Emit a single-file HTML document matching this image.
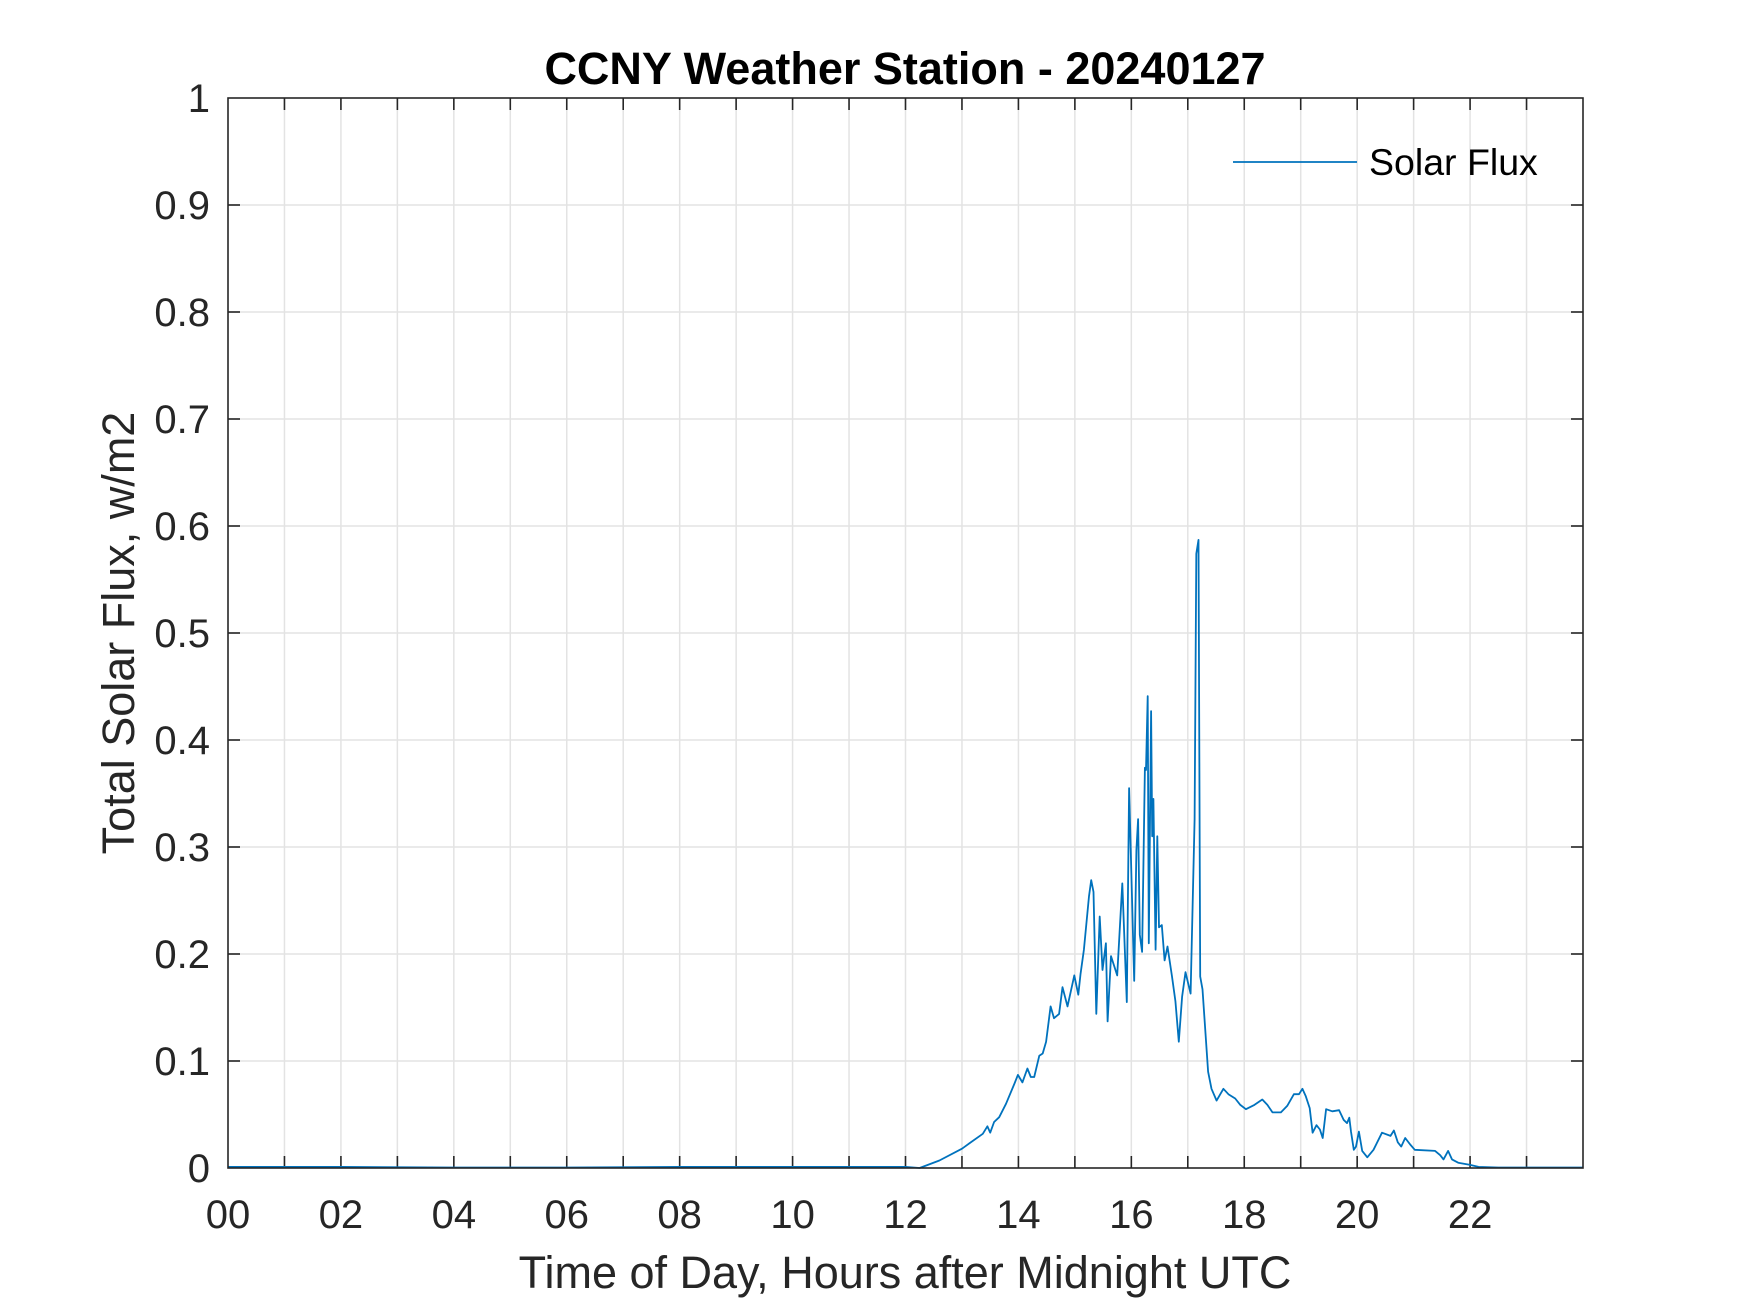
<!DOCTYPE html>
<html><head><meta charset="utf-8"><style>
html,body{margin:0;padding:0;background:#fff;}
svg{display:block;font-family:"Liberation Sans",Arial,sans-serif;}
</style></head><body>
<svg id="chart" width="1750" height="1313" viewBox="0 0 1750 1313" xmlns="http://www.w3.org/2000/svg">
<rect width="1750" height="1313" fill="#fff"/>
<g id="grid"></g>
<g id="ticks"></g>
<path id="line" fill="none" stroke="#0072BD" stroke-width="1.8" stroke-linejoin="round"/>
<rect x="228" y="98" width="1355" height="1070" fill="none" stroke="#262626" stroke-width="1.6"/>
<g id="labels"></g>
<text x="905" y="84" text-anchor="middle" font-size="45" font-weight="bold" fill="#000">CCNY Weather Station - 20240127</text>
<text x="905" y="1288" text-anchor="middle" font-size="45" fill="#262626">Time of Day, Hours after Midnight UTC</text>
<text transform="translate(134,633) rotate(-90)" text-anchor="middle" font-size="45" fill="#262626">Total Solar Flux, w/m2</text>
<g>
<line x1="1233" y1="162" x2="1357" y2="162" stroke="#0072BD" stroke-width="1.8"/>
<text x="1369" y="175" font-size="37.5" fill="#000">Solar Flux</text>
</g>
</svg>
<script>
const hours=[0,2,4,6,8,10,12,12.25,12.6,13.0,13.13,13.37,13.45,13.5,13.57,13.66,13.78,13.93,13.99,14.07,14.16,14.22,14.28,14.37,14.43,14.49,14.57,14.63,14.72,14.78,14.87,14.99,15.06,15.1,15.16,15.25,15.29,15.33,15.38,15.44,15.49,15.55,15.58,15.64,15.75,15.84,15.92,15.96,16.05,16.09,16.12,16.15,16.19,16.24,16.26,16.29,16.31,16.35,16.37,16.39,16.43,16.46,16.49,16.54,16.59,16.64,16.72,16.78,16.84,16.9,16.96,17.05,17.12,17.15,17.19,17.22,17.26,17.36,17.42,17.51,17.63,17.72,17.84,17.93,18.03,18.18,18.32,18.41,18.5,18.65,18.76,18.88,18.97,19.03,19.09,19.16,19.21,19.28,19.34,19.39,19.45,19.56,19.68,19.76,19.82,19.86,19.89,19.94,19.98,20.03,20.09,20.18,20.29,20.44,20.59,20.65,20.72,20.78,20.85,20.94,21.02,21.38,21.47,21.53,21.61,21.68,21.79,21.99,22.15,22.5,23,24];
const flux=[0.001,0.001,0.0005,0.0005,0.001,0.001,0.001,0,0.007,0.018,0.023,0.032,0.039,0.033,0.043,0.0475,0.06,0.079,0.087,0.08,0.093,0.085,0.085,0.105,0.107,0.118,0.151,0.14,0.144,0.169,0.151,0.18,0.162,0.181,0.204,0.254,0.269,0.258,0.144,0.235,0.185,0.21,0.137,0.198,0.18,0.266,0.155,0.355,0.175,0.297,0.326,0.218,0.202,0.374,0.372,0.441,0.21,0.427,0.31,0.345,0.204,0.31,0.225,0.227,0.194,0.207,0.179,0.156,0.118,0.16,0.183,0.163,0.326,0.574,0.587,0.179,0.167,0.09,0.074,0.063,0.074,0.069,0.065,0.059,0.055,0.059,0.064,0.059,0.052,0.052,0.058,0.069,0.069,0.074,0.067,0.056,0.033,0.04,0.036,0.028,0.055,0.053,0.054,0.045,0.042,0.047,0.034,0.017,0.02,0.034,0.016,0.01,0.017,0.033,0.03,0.035,0.024,0.02,0.028,0.022,0.017,0.016,0.012,0.008,0.016,0.008,0.005,0.003,0.001,0.0005,0.0005,0.0005];
const xTickLabels=["00","02","04","06","08","10","12","14","16","18","20","22"];
const yTickLabels=["0","0.1","0.2","0.3","0.4","0.5","0.6","0.7","0.8","0.9","1"];
const X0=228,X1=1583,Y0=1168,Y1=98;
function xs(h){return X0+(X1-X0)*h/24;}
function ys(v){return Y0-(Y0-Y1)*v;}
const NS="http://www.w3.org/2000/svg";
const grid=document.getElementById('grid'),ticks=document.getElementById('ticks'),labels=document.getElementById('labels');
function mk(tag,attrs,parent){const e=document.createElementNS(NS,tag);for(const k in attrs)e.setAttribute(k,attrs[k]);parent.appendChild(e);return e;}
for(let h=1;h<24;h++){
  const x=xs(h);
  const g=mk('line',{x1:x,x2:x,y1:Y1,y2:Y0,stroke:'#e3e3e3','stroke-width':1.5},grid);
  
  
  const t1=mk('line',{x1:x,x2:x,y1:Y0,y2:Y0-12,stroke:'#262626','stroke-width':1.6},ticks);
  
  
  const t2=mk('line',{x1:x,x2:x,y1:Y1,y2:Y1+12,stroke:'#262626','stroke-width':1.6},ticks);
  
  
}
xTickLabels.forEach((s,i)=>{
  const t=mk('text',{x:xs(i*2),y:1228,'text-anchor':'middle','font-size':40,fill:'#262626'},labels);
  t.textContent=s;
  
  
});
yTickLabels.forEach((s,i)=>{
  const v=i/10,y=ys(v);
  if(i>0&&i<10){
    const g=mk('line',{x1:X0,x2:X1,y1:y,y2:y,stroke:'#e3e3e3','stroke-width':1.5},grid);
    
    
    const t1=mk('line',{x1:X0,x2:X0+12,y1:y,y2:y,stroke:'#262626','stroke-width':1.6},ticks);
    
    
    const t2=mk('line',{x1:X1,x2:X1-12,y1:y,y2:y,stroke:'#262626','stroke-width':1.6},ticks);
    
    
  }
  const t=mk('text',{x:210,y:y+14,'text-anchor':'end','font-size':40,fill:'#262626'},labels);
  t.textContent=s;
  
  
});
let d='';
hours.forEach((h,i)=>{d+=(i?'L':'M')+xs(h).toFixed(1)+','+ys(flux[i]).toFixed(1);});
document.getElementById('line').setAttribute('d',d);
</script>
</body></html>
